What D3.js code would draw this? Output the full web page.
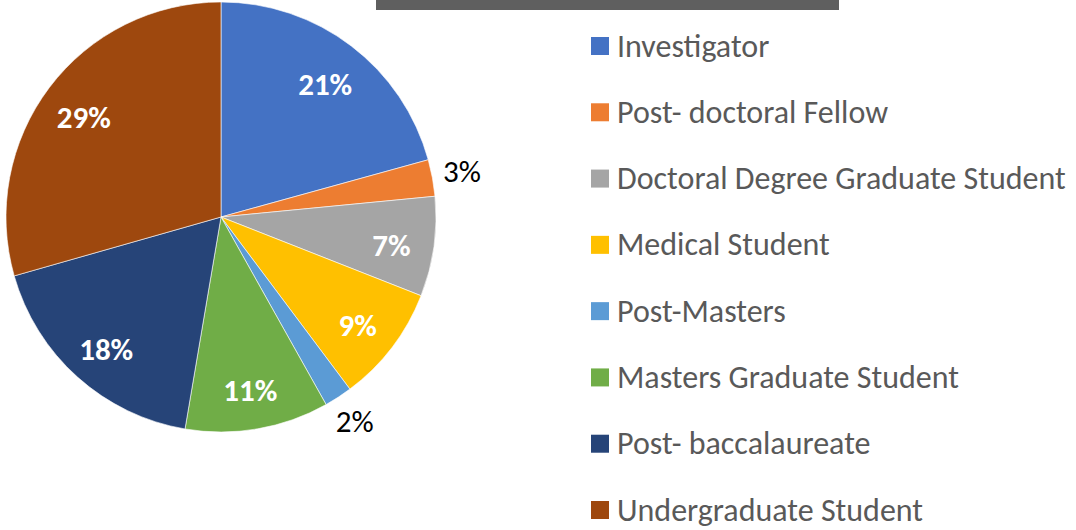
<!DOCTYPE html>
<html lang="en">
<head>
<meta charset="UTF-8">
<title>Participants by role</title>
<script src="https://d3js.org/d3.v7.min.js"></script>
<style>
  body { margin: 0; background: #fff; }
  svg { display: block; }
  .legend text { font-family: Carlito, Lato, "Open Sans", sans-serif; font-size: 32px; fill: #595959; }
  .pct { font-family: Carlito, Lato, "Open Sans", sans-serif; font-size: 31px; }
</style>
</head>
<body>
<div id="chart"></div>
<script>
// categories and share (%)
const categories = ["Investigator", "Post- doctoral Fellow", "Doctoral Degree Graduate Student",
  "Medical Student", "Post-Masters", "Masters Graduate Student", "Post- baccalaureate",
  "Undergraduate Student"];
const values = [20.7, 2.75, 7.5, 8.8, 2.1, 10.8, 17.9, 29.4];
const labels = ["21%", "3%", "7%", "9%", "2%", "11%", "18%", "29%"];
const outside = [false, true, false, false, true, false, false, false];
const colors = ["#4472C4", "#ED7D31", "#A5A5A5", "#FFC000", "#5B9BD5", "#70AD47", "#264478", "#9E480E"];

const W = 1076, H = 530;
const cx = 221, cy = 217, r = 215;

const svg = d3.select("#chart").append("svg")
    .attr("width", W)
    .attr("height", H);

// cut-off title box at the top
svg.append("rect")
    .attr("x", 376).attr("y", 0)
    .attr("width", 463).attr("height", 10)
    .attr("fill", "#5f5f5f");

const data = categories.map((c, i) => ({name: c, value: values[i], label: labels[i], out: outside[i], color: colors[i]}));

const pie = d3.pie().sort(null).value(d => d.value);
const arc = d3.arc().innerRadius(0).outerRadius(r);
const inLabel = d3.arc().innerRadius(r * 0.8).outerRadius(r * 0.8);
const outLabel = d3.arc().innerRadius(r + 30).outerRadius(r + 30);

const g = svg.append("g").attr("transform", `translate(${cx},${cy})`);

g.selectAll("path.slice")
  .data(pie(data))
  .enter().append("path")
  .attr("class", "slice")
  .attr("d", arc)
  .attr("fill", d => d.data.color)
  .attr("stroke", "#fff")
  .attr("stroke-width", 0.6);

g.selectAll("text.pct")
  .data(pie(data))
  .enter().append("text")
  .attr("class", "pct")
  .attr("transform", d => `translate(${(d.data.out ? outLabel : inLabel).centroid(d)})`)
  .attr("text-anchor", "middle")
  .attr("dy", d => d.data.out ? "0.3em" : "0.48em")
  .attr("fill", d => d.data.out ? "#000" : "#fff")
  .attr("font-weight", d => d.data.out ? "normal" : "bold")
  .text(d => d.data.label);

// legend
const ly = d3.scalePoint().domain(categories).range([46, 510]);

const legend = svg.append("g").attr("class", "legend");
const row = legend.selectAll("g")
  .data(categories)
  .enter().append("g")
  .attr("transform", d => `translate(591,${ly(d)})`);

row.append("rect")
  .attr("x", 0).attr("y", -9)
  .attr("width", 18).attr("height", 18)
  .attr("fill", (d, i) => colors[i]);

row.append("text")
  .attr("x", 26)
  .attr("dy", "0.33em")
  .text(d => d);
</script>
</body>
</html>
